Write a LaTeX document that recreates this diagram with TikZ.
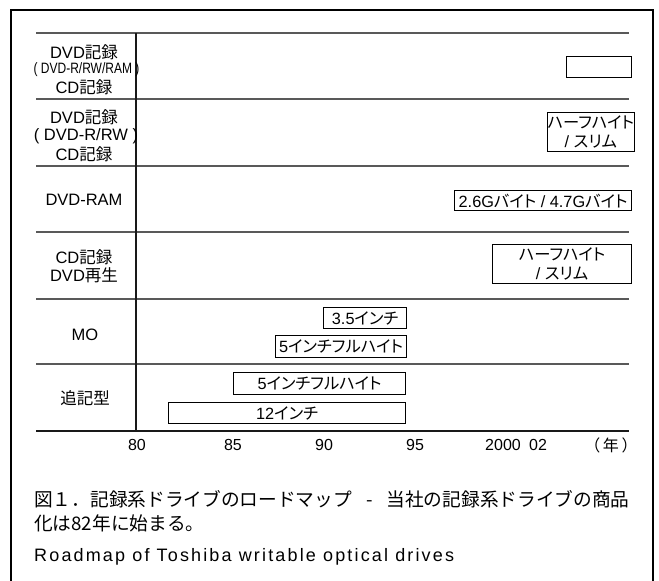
\documentclass[tikz,border=0pt]{standalone}
\usepackage{fontspec}
\setmainfont{Liberation Sans}
\newfontfamily\jp{Noto Sans CJK JP}
\newfontfamily\jpp[RawFeature=+palt]{Noto Sans CJK JP}
\newfontfamily\capfont[LetterSpace=12]{Liberation Sans}
\begin{document}
\begin{tikzpicture}[x=1pt,y=-1pt,
  lbl/.style={font=\fontsize{16.5}{18}\selectfont, inner sep=0pt},
  tick/.style={font=\fontsize{16}{18}\selectfont, inner sep=0pt},
  bar/.style={draw, line width=1.2pt, inner sep=0pt, anchor=north west,
    font=\fontsize{16.3}{19}\selectfont, align=center},
  sep/.style={line width=1.3pt, draw=black!65},
  axis/.style={line width=2pt, draw=black!90},
  captext/.style={anchor=west, inner sep=0pt, font=\fontsize{18.7}{20}\selectfont},
]
\useasboundingbox (0,0) rectangle (659,581);
\draw[line width=1.5pt] (11,581) -- (11,10) -- (653,10) -- (653,581);
% grid
\draw[sep] (36,33) -- (629,33);
\draw[sep] (36,99) -- (629,99);
\draw[sep] (36,166) -- (629,166);
\draw[sep] (36,232) -- (629,232);
\draw[sep] (36,299) -- (629,299);
\draw[sep] (36,364) -- (629,364);
\draw[axis] (36,431) -- (629,431);
\draw[axis] (136,33) -- (136,431);
% row labels
\node[lbl] (r1a) at (84,52) {DVD{\jp 記録}};
\node[lbl] (r1b) at (86.5,70) {\scalebox{0.8}[1]{\fontsize{15}{16}\selectfont ( DVD-R/RW/RAM )}};
\node[lbl] (r1c) at (84,87) {CD{\jp 記録}};
\node[lbl] (r2a) at (84,117) {DVD{\jp 記録}};
\node[lbl] (r2b) at (86,136) {( DVD-R/RW )};
\node[lbl] (r2c) at (84,154) {CD{\jp 記録}};
\node[lbl] (r3) at (84,200) {DVD-RAM};
\node[lbl] (r4a) at (84,257) {CD{\jp 記録}};
\node[lbl] (r4b) at (84,275) {DVD{\jp 再生}};
\node[lbl] (r5) at (85,335) {MO};
\node[lbl] (r6) at (85,398) {\jp 追記型};
% bars
\node[bar, minimum width=65pt, minimum height=21pt] (b1) at (566,56) {};
\node[bar, minimum width=84pt, minimum height=39pt] (b2) at (547,112) {\jpp ハーフハイト\\/ {\jpp スリム}};
\node[bar, minimum width=177pt, minimum height=20pt] (b3) at (454,190) {2.6G{\jpp バイト} / 4.7G{\jpp バイト}};
\node[bar, minimum width=139pt, minimum height=39pt] (b4) at (492,244) {\jpp ハーフハイト\\/ {\jpp スリム}};
\node[bar, minimum width=83pt, minimum height=21pt] (b5) at (323,307) {3.5{\jpp インチ}};
\node[bar, minimum width=131pt, minimum height=22pt] (b6) at (275,335) {5{\jpp インチフルハイト}};
\node[bar, minimum width=172pt, minimum height=22pt] (b7) at (233,372) {5{\jpp インチフルハイト}};
\node[bar, minimum width=237pt, minimum height=21pt] (b8) at (168,402) {12{\jpp インチ}};
% ticks
\node[tick] (t80) at (137,445) {80};
\node[tick] (t85) at (233,445) {85};
\node[tick] (t90) at (324,445) {90};
\node[tick] (t95) at (415,445) {95};
\node[tick] (t00) at (503,445) {2000};
\node[tick] (t02) at (538,445) {02};
\node[tick] (tyr) at (611,445) {\jp （\,年\,）};
% caption
\node[captext] (c1) at (34,499) {\jp 図１．記録系ドライブのロードマップ\hspace{14pt}-\hspace{14pt}当社の記録系ドライブの商品};
\node[captext] (c2) at (34,523) {\jp 化は82年に始まる。};
\node[captext] (c3) at (34,557) {\capfont\fontsize{18}{20}\selectfont Roadmap of Toshiba writable optical drives};
\end{tikzpicture}
\end{document}
